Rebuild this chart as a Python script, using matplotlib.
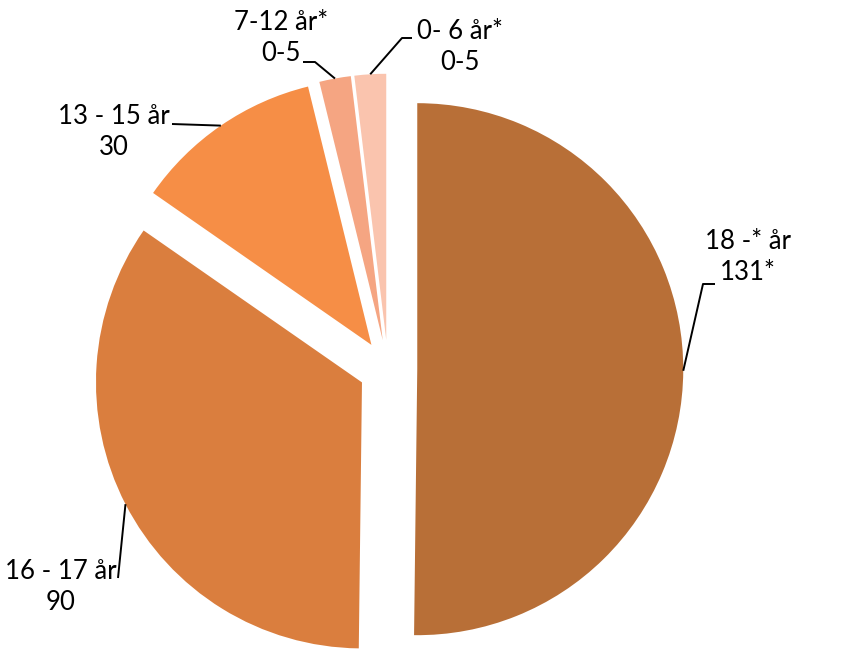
import matplotlib
matplotlib.use("Agg")
import matplotlib.pyplot as plt
import numpy as np

labels = ["18 -* år", "16 - 17 år", "13 - 15 år", "7-12 år*", "0- 6 år*"]
values = [131, 90, 30, 5, 5]
value_labels = ["131*", "90", "30", "0-5", "0-5"]
colors = ["#B86F37", "#DA7E3E", "#F68E46", "#F5A582", "#FAC4AE"]

W, H = 855, 671
fig = plt.figure(figsize=(W / 100, H / 100), dpi=100)
ax = fig.add_axes([0, 0, 1, 1])

def py(y):
    return H - y

R = 266
wedges, _ = ax.pie(values, colors=colors, startangle=90, counterclock=False,
                   radius=R, center=(388, py(369)), explode=[0.11 * R] * 5,
                   wedgeprops=dict(linewidth=0))
ax.set_xlim(0, W)
ax.set_ylim(0, H)
ax.set_aspect("equal")
ax.axis("off")

# label block centres (pixels), elbow points (pixels)
text_pos = [(748, 257), (61, 587), (114, 132), (281, 38), (460, 47)]
elbows = [[(703, 284), (715, 284)], [(118, 578)], [(172, 124)],
          [(315, 62), (303, 62)], [(402, 38), (412, 38)]]

for w, lab, val, tp, el in zip(wedges, labels, value_labels, text_pos, elbows):
    mid = np.deg2rad((w.theta1 + w.theta2) / 2)
    cx, cy = w.center
    ax_x = cx + w.r * np.cos(mid)
    ax_y = cy + w.r * np.sin(mid)
    xs = [ax_x] + [p[0] for p in el]
    ys = [ax_y] + [py(p[1]) for p in el]
    ax.plot(xs, ys, color="black", lw=1.4, solid_capstyle="butt")
    ax.text(tp[0], py(tp[1]), f"{lab}\n{val}", ha="center", va="center",
            fontsize=18.5, family="Lato", linespacing=1.3)

fig.savefig("out.png", dpi=100)
